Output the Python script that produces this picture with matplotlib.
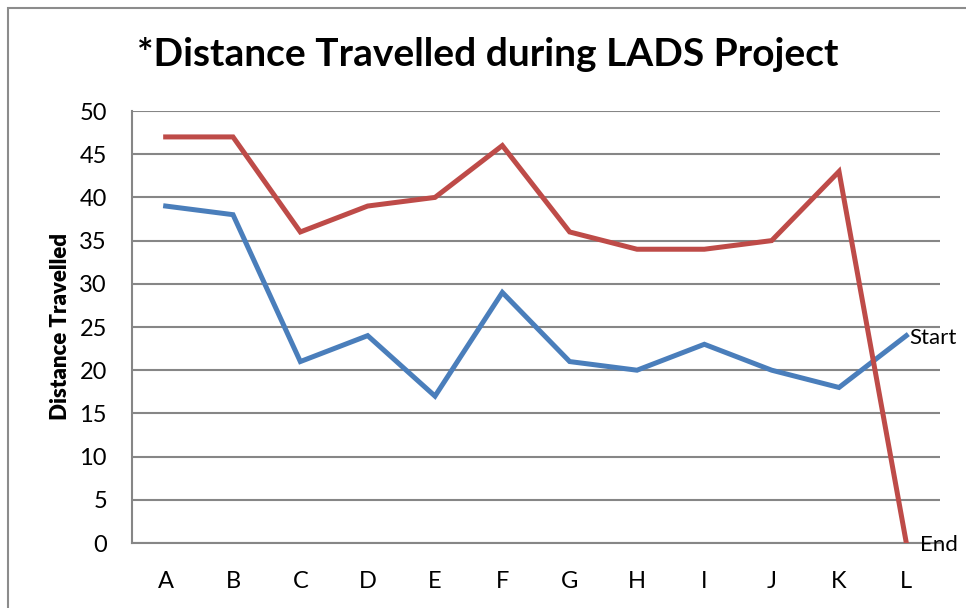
import matplotlib
matplotlib.use("Agg")
import matplotlib.pyplot as plt
from matplotlib.patches import Rectangle

plt.rcParams["font.family"] = ["Lato", "DejaVu Sans"]

categories = ["A", "B", "C", "D", "E", "F", "G", "H", "I", "J", "K", "L"]
start_vals = [39, 38, 21, 24, 17, 29, 21, 20, 23, 20, 18, 24]
end_vals = [47, 47, 36, 39, 40, 46, 36, 34, 34, 35, 43, 0]
yticks = list(range(0, 51, 5))

BLUE = "#4A7EBB"
RED = "#BE4B48"
GRID = "#868686"

fig = plt.figure(figsize=(9.66, 6.08), dpi=100)
ax = fig.add_axes([132 / 966, 65 / 608, 808 / 966, 432 / 608])

# outer chart border (cropped at right/bottom)
fig.add_artist(Rectangle((8 / 966, -0.1), 1.2, 1.1 - 8 / 608,
                         transform=fig.transFigure, fill=False, ec="#8c8c8c", lw=1.5))

x = list(range(len(categories)))
ax.plot(x, start_vals, color=BLUE, lw=3.6, solid_joinstyle="miter", zorder=3)
ax.plot(x, end_vals, color=RED, lw=3.6, solid_joinstyle="miter", zorder=3)

ax.text(x[-1] + 0.05, start_vals[-1] - 0.3, "Start", fontsize=16, va="center", ha="left")
ax.text(x[-1] + 0.2, end_vals[-1] - 0.2, "End", fontsize=16, va="center", ha="left")

ax.set_xlim(-0.5, 11.5)
ax.set_ylim(0, 50)
ax.set_yticks(yticks)
ax.set_xticks(x)
ax.set_xticklabels(categories)
ax.tick_params(length=0, labelsize=17)
ax.tick_params(axis="x", pad=20)
ax.tick_params(axis="y", pad=18)
ax.yaxis.grid(True, color=GRID, lw=1.5)
ax.set_axisbelow(True)
for s in ["top", "right"]:
    ax.spines[s].set_visible(False)
for s in ["left", "bottom"]:
    ax.spines[s].set_color(GRID)
    ax.spines[s].set_linewidth(1.5)

ax.set_ylabel("Distance Travelled", fontsize=16, fontweight="heavy", labelpad=6)
fig.text(488 / 966, 1 - 55 / 608, "*Distance Travelled during LADS Project",
         fontsize=28, fontweight="bold", ha="center", va="center")

fig.savefig("out.png", dpi=100)
